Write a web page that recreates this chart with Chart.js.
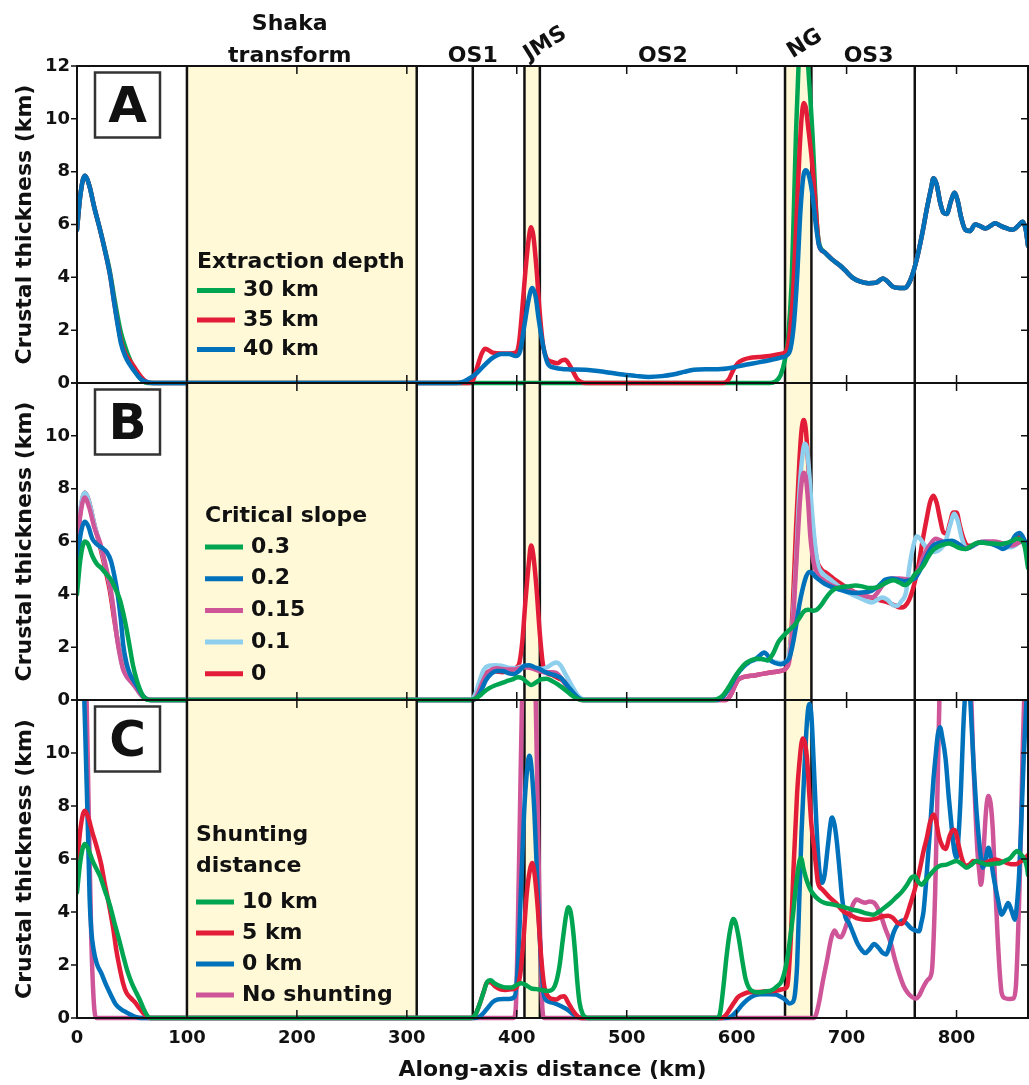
<!DOCTYPE html>
<html>
<head>
<meta charset="utf-8">
<title>Crustal thickness along the ridge axis</title>
<script src="https://cdn.jsdelivr.net/npm/chart.js@4.4.1/dist/chart.umd.min.js"></script>
<style>
  body { margin: 0; background: #fff; }
  #wrap { position: relative; width: 1029px; height: 1085px; }
  #wrap canvas { position: absolute; left: 0; top: 0; }
</style>
</head>
<body>
<div id="wrap">
  <canvas id="panelA" width="1029" height="1085"></canvas>
  <canvas id="panelB" width="1029" height="1085"></canvas>
  <canvas id="panelC" width="1029" height="1085"></canvas>
</div>
<script>
// along-axis distance range (km) and section boundaries
const xMax = 865;
const segmentEdges = [100, 309, 360, 407, 421, 644, 668, 762];
const yellowBands = [[100, 309], [407, 421], [644, 668]];
const segmentLabels = [
  { text: ['Shaka', 'transform'], km: 193.5 },
  { text: ['OS1'], km: 360 },
  { text: ['OS2'], km: 533 },
  { text: ['OS3'], km: 720 }
];
const tiltedLabels = [
  { text: 'JMS', km: 426 },
  { text: 'NG', km: 662 }
];

// A: extraction depth  [km, crustal thickness km]
const depth40 = [[0,5.8],[3,7.1],[7,7.85],[11,7.5],[16,6.6],[21,5.8],[26,4.9],[30,4.1],[34,3.0],[37,2.2],[40,1.5],[44,1.0],[48,0.7],[53,0.4],[58,0.15],[64,0.03],[70,0],[340,0],[349,0.02],[356,0.15],[363,0.35],[370,0.65],[378,0.95],[386,1.1],[393,1.1],[399,1.02],[403,1.2],[407,2.2],[411,3.2],[414,3.6],[417,3.3],[420,2.4],[424,1.4],[428,0.75],[434,0.58],[445,0.52],[462,0.5],[480,0.42],[494,0.33],[508,0.27],[520,0.23],[532,0.26],[542,0.32],[552,0.42],[561,0.5],[575,0.52],[586,0.53],[598,0.6],[608,0.69],[620,0.78],[632,0.88],[640,0.96],[645,1.03],[649,1.3],[652,2.2],[655,4.0],[658,6.5],[661,7.9],[663,8.05],[666,7.8],[669,7.1],[672,6.0],[675,5.2],[680,4.95],[687,4.67],[694,4.45],[699,4.25],[705,4.0],[712,3.85],[720,3.78],[727,3.8],[733,3.96],[737,3.85],[742,3.65],[748,3.6],[753,3.6],[757,3.8],[761,4.25],[765,4.9],[769,5.7],[773,6.6],[777,7.4],[779,7.75],[782,7.5],[785,6.85],[788,6.45],[791,6.4],[795,6.9],[798,7.2],[801,6.9],[804,6.3],[808,5.8],[812,5.75],[817,6.0],[821,5.95],[826,5.85],[831,5.95],[835,6.05],[840,5.95],[846,5.85],[851,5.8],[856,5.95],[860,6.1],[863,5.8],[865,5.2]];
const depth35 = [[0,5.8],[3,7.1],[7,7.85],[11,7.5],[16,6.6],[21,5.8],[26,4.9],[30,4.1],[34,3.0],[37,2.25],[40,1.6],[44,1.1],[48,0.85],[53,0.55],[58,0.25],[63,0.05],[68,0],[355,0],[360,0.1],[364,0.6],[368,1.1],[371,1.3],[374,1.25],[378,1.15],[386,1.12],[393,1.12],[399,1.15],[402,1.5],[405,2.8],[408,4.3],[411,5.5],[413,5.9],[415,5.6],[418,4.3],[421,2.6],[424,1.4],[427,0.95],[432,0.8],[437,0.75],[441,0.85],[444,0.88],[447,0.75],[451,0.45],[455,0.15],[459,0.03],[463,0],[588,0],[593,0.15],[597,0.5],[601,0.75],[606,0.88],[612,0.95],[620,0.98],[630,1.02],[640,1.1],[645,1.2],[648,1.8],[651,3.2],[654,5.8],[657,8.6],[659,10.0],[661,10.6],[663,10.4],[665,9.7],[668,8.6],[671,7.2],[673,6.0],[675,5.2],[680,4.95],[687,4.67],[694,4.45],[699,4.25],[705,4.0],[712,3.85],[720,3.78],[727,3.8],[733,3.96],[737,3.85],[742,3.65],[748,3.6],[753,3.6],[757,3.8],[761,4.25],[765,4.9],[769,5.7],[773,6.6],[777,7.4],[779,7.75],[782,7.5],[785,6.85],[788,6.45],[791,6.4],[795,6.9],[798,7.2],[801,6.9],[804,6.3],[808,5.8],[812,5.75],[817,6.0],[821,5.95],[826,5.85],[831,5.95],[835,6.05],[840,5.95],[846,5.85],[851,5.8],[856,5.95],[860,6.1],[863,5.8],[865,5.2]];
const depth30 = [[0,5.8],[3,7.1],[7,7.85],[11,7.5],[16,6.6],[21,5.8],[26,4.95],[30,4.2],[34,3.2],[37,2.5],[40,1.9],[44,1.35],[48,0.9],[53,0.45],[58,0.15],[62,0.02],[65,0],[630,0],[635,0.05],[640,0.3],[644,0.9],[647,1.8],[650,3.8],[652,6.5],[654,9.5],[656,11.7],[658,13.5],[661,14.5],[663,13.5],[665,12],[667,10.8],[669,9.4],[671,7.6],[673,6.0],[675,5.3],[680,4.95],[687,4.67],[694,4.45],[699,4.25],[705,4.0],[712,3.85],[720,3.78],[727,3.8],[733,3.96],[737,3.85],[742,3.65],[748,3.6],[753,3.6],[757,3.8],[761,4.25],[765,4.9],[769,5.7],[773,6.6],[777,7.4],[779,7.75],[782,7.5],[785,6.85],[788,6.45],[791,6.4],[795,6.9],[798,7.2],[801,6.9],[804,6.3],[808,5.8],[812,5.75],[817,6.0],[821,5.95],[826,5.85],[831,5.95],[835,6.05],[840,5.95],[846,5.85],[851,5.8],[856,5.95],[860,6.1],[863,5.8],[865,5.2]];

// B: critical slope
const slope03 = [[0,4.0],[3,5.3],[7,6.0],[10,5.9],[14,5.45],[18,5.15],[22,5.0],[27,4.75],[31,4.55],[35,4.2],[39,3.8],[42,3.3],[45,2.7],[48,2.0],[51,1.3],[54,0.8],[57,0.42],[60,0.15],[63,0.03],[66,0],[358,0],[362,0.05],[366,0.15],[370,0.3],[375,0.45],[380,0.55],[385,0.62],[390,0.7],[396,0.78],[401,0.86],[405,0.82],[409,0.68],[413,0.57],[417,0.65],[422,0.78],[427,0.8],[432,0.72],[437,0.6],[442,0.45],[447,0.28],[452,0.12],[456,0.03],[460,0],[578,0],[583,0.05],[588,0.2],[593,0.5],[598,0.85],[603,1.15],[608,1.38],[613,1.5],[618,1.56],[623,1.55],[628,1.5],[633,1.75],[638,2.2],[643,2.45],[648,2.65],[653,2.85],[657,3.1],[661,3.35],[665,3.42],[670,3.38],[673,3.42],[677,3.6],[681,3.85],[686,4.1],[690,4.22],[696,4.28],[702,4.3],[708,4.33],[714,4.3],[720,4.24],[726,4.25],[732,4.35],[738,4.48],[743,4.53],[748,4.45],[753,4.35],[758,4.5],[762,4.75],[766,4.9],[770,5.1],[774,5.4],[778,5.65],[783,5.8],[788,5.88],[793,5.92],[798,5.85],[803,5.75],[808,5.72],[813,5.82],[818,5.94],[823,5.96],[828,5.93],[834,5.92],[840,5.9],[846,5.95],[851,6.03],[855,6.1],[859,6.05],[862,5.8],[865,5.0]];
const slope02 = [[0,5.1],[3,6.2],[7,6.75],[10,6.6],[14,6.1],[18,5.9],[23,5.75],[27,5.6],[31,5.25],[34,4.7],[37,4.0],[40,3.0],[42,2.1],[45,1.4],[48,1.0],[52,0.7],[55,0.5],[58,0.28],[61,0.1],[64,0.02],[67,0],[360,0],[364,0.1],[368,0.4],[372,0.75],[377,1.0],[382,1.1],[387,1.1],[392,1.02],[397,0.98],[402,1.1],[407,1.3],[411,1.32],[416,1.24],[421,1.17],[426,1.05],[431,0.98],[436,0.92],[440,0.84],[444,0.65],[448,0.45],[452,0.25],[456,0.08],[460,0],[582,0],[588,0.15],[594,0.5],[600,0.95],[606,1.25],[612,1.45],[617,1.55],[622,1.72],[625,1.8],[628,1.7],[631,1.5],[635,1.4],[640,1.35],[645,1.45],[648,1.6],[651,2.1],[654,2.8],[657,3.6],[660,4.2],[663,4.65],[666,4.85],[669,4.8],[672,4.65],[675,4.55],[680,4.4],[685,4.3],[692,4.2],[700,4.1],[708,4.05],[716,4.08],[723,4.14],[730,4.35],[735,4.55],[741,4.6],[747,4.55],[753,4.5],[758,4.55],[762,4.6],[766,4.85],[770,5.2],[774,5.55],[779,5.85],[784,5.95],[790,6.0],[796,6.03],[802,5.9],[808,5.72],[814,5.82],[820,5.95],[826,5.95],[832,5.9],[838,5.8],[842,5.72],[846,5.8],[850,6.0],[854,6.25],[857,6.32],[860,6.2],[863,5.9],[865,5.5]];
const slope015 = [[0,5.8],[3,7.0],[7,7.67],[11,7.3],[16,6.5],[21,5.95],[26,5.1],[30,4.35],[33,3.5],[36,2.45],[39,1.7],[42,1.15],[45,0.9],[49,0.7],[53,0.5],[57,0.25],[61,0.08],[64,0.02],[67,0],[360,0],[364,0.2],[368,0.6],[372,0.95],[377,1.15],[382,1.2],[387,1.17],[392,1.15],[397,1.15],[402,1.2],[407,1.24],[412,1.22],[417,1.15],[422,1.08],[427,1.05],[432,1.05],[436,1.02],[440,0.85],[444,0.6],[448,0.38],[452,0.18],[456,0.05],[460,0],[590,0],[594,0.15],[598,0.5],[601,0.75],[605,0.85],[610,0.9],[616,0.93],[622,0.98],[628,1.02],[634,1.06],[640,1.1],[645,1.2],[648,1.5],[651,2.8],[654,5.0],[657,7.2],[659,8.2],[661,8.6],[663,8.4],[665,7.5],[667,6.2],[670,5.2],[673,4.8],[677,4.6],[682,4.45],[688,4.3],[695,4.2],[702,4.15],[710,4.05],[718,3.92],[723,3.88],[727,4.0],[732,4.3],[737,4.55],[742,4.6],[748,4.6],[753,4.58],[757,4.55],[761,4.6],[765,4.9],[769,5.35],[773,5.7],[777,5.95],[781,6.1],[785,6.05],[790,5.95],[795,5.97],[800,5.95],[806,5.78],[811,5.75],[816,5.88],[822,5.98],[828,6.0],[834,6.0],[840,5.95],[846,5.85],[851,5.85],[856,5.95],[860,6.0],[863,5.8],[865,5.4]];
const slope01 = [[0,6.0],[3,7.2],[7,7.85],[11,7.5],[16,6.6],[21,5.9],[26,5.05],[30,4.3],[33,3.5],[36,2.5],[39,1.75],[42,1.2],[45,0.92],[49,0.7],[53,0.5],[57,0.25],[61,0.08],[64,0.02],[67,0],[358,0],[362,0.2],[366,0.7],[370,1.15],[375,1.3],[380,1.32],[386,1.3],[392,1.22],[398,1.2],[403,1.25],[408,1.28],[413,1.24],[418,1.18],[423,1.18],[428,1.25],[433,1.38],[436,1.42],[440,1.3],[444,1.0],[448,0.7],[452,0.4],[456,0.15],[460,0.03],[463,0],[582,0],[588,0.15],[594,0.5],[600,0.95],[606,1.25],[612,1.45],[617,1.52],[622,1.55],[628,1.5],[634,1.45],[640,1.4],[645,1.45],[648,1.8],[651,3.0],[654,5.2],[657,7.8],[660,9.3],[662,9.7],[664,9.5],[666,8.6],[668,7.4],[671,6.0],[674,5.1],[678,4.8],[684,4.6],[692,4.33],[700,4.1],[710,3.9],[718,3.75],[723,3.69],[728,3.8],[732,3.88],[737,3.8],[742,3.6],[746,3.57],[750,3.75],[754,4.07],[757,5.0],[760,5.7],[764,6.2],[767,6.1],[771,5.85],[775,5.7],[780,5.6],[785,5.7],[790,6.0],[794,6.6],[798,7.05],[801,6.8],[805,6.1],[809,5.75],[814,5.8],[820,5.95],[826,6.0],[832,5.95],[838,5.9],[844,5.8],[850,5.78],[855,5.9],[860,6.05],[863,5.8],[865,5.4]];
const slope0 = [[0,5.8],[3,7.1],[7,7.85],[11,7.5],[16,6.6],[21,5.8],[26,4.9],[30,4.1],[34,3.0],[37,2.25],[40,1.6],[44,1.1],[48,0.85],[53,0.55],[58,0.25],[63,0.05],[68,0],[360,0],[364,0.2],[368,0.7],[372,1.0],[377,1.1],[382,1.08],[387,1.05],[393,1.1],[398,1.2],[402,1.35],[405,2.2],[408,3.8],[411,5.2],[413,5.85],[415,5.5],[418,4.2],[421,2.5],[424,1.3],[428,1.0],[432,0.95],[436,0.86],[440,0.78],[444,0.68],[448,0.48],[451,0.3],[455,0.1],[459,0],[590,0],[594,0.15],[598,0.5],[601,0.75],[605,0.85],[610,0.9],[616,0.93],[622,0.98],[628,1.02],[634,1.06],[640,1.1],[645,1.2],[648,1.7],[651,3.5],[654,6.5],[657,9.0],[659,10.2],[661,10.6],[663,10.2],[665,9.0],[667,7.6],[670,6.2],[673,5.3],[677,4.95],[682,4.8],[688,4.6],[695,4.4],[702,4.2],[708,4.07],[715,3.95],[723,3.88],[730,3.78],[738,3.69],[744,3.58],[749,3.5],[753,3.55],[757,3.8],[761,4.3],[765,5.0],[769,6.0],[773,6.9],[776,7.5],[779,7.73],[782,7.45],[785,6.85],[788,6.35],[791,6.3],[794,6.7],[797,7.1],[800,7.1],[803,6.6],[806,6.15],[810,5.84],[815,5.85],[821,5.96],[827,5.95],[833,5.98],[839,5.95],[845,5.9],[850,6.0],[855,6.15],[859,6.2],[862,5.9],[865,5.3]];

// C: shunting distance
const shunt10 = [[0,4.74],[3,5.9],[7,6.57],[10,6.4],[14,5.95],[18,5.6],[21,5.35],[25,4.85],[30,4.24],[34,3.6],[38,3.0],[42,2.35],[46,1.75],[50,1.3],[54,0.95],[57,0.7],[60,0.4],[63,0.15],[65,0.03],[67,0],[358,0],[362,0.1],[366,0.5],[370,1.0],[373,1.35],[376,1.42],[380,1.3],[385,1.2],[390,1.15],[395,1.15],[400,1.25],[404,1.31],[408,1.25],[413,1.12],[418,1.09],[423,1.05],[428,1.02],[433,1.1],[436,1.38],[439,2.0],[442,3.0],[445,3.9],[447,4.18],[449,4.0],[451,3.4],[453,2.5],[455,1.4],[457,0.6],[460,0.15],[463,0.02],[465,0],[582,0],[585,0.2],[588,1.2],[591,2.4],[594,3.3],[597,3.74],[599,3.6],[602,3.0],[605,2.2],[608,1.5],[611,1.15],[615,1.0],[620,0.97],[626,1.0],[632,1.05],[637,1.2],[641,1.4],[645,2.0],[648,2.8],[651,3.8],[654,5.0],[657,5.9],[658.5,6.04],[661,5.6],[664,5.16],[667,4.85],[670,4.66],[675,4.45],[680,4.34],[688,4.28],[696,4.2],[704,4.1],[712,4.03],[718,3.95],[724,3.9],[729,4.0],[734,4.15],[740,4.35],[745,4.55],[750,4.75],[755,5.03],[759,5.3],[762,5.35],[765,5.15],[768,5.03],[772,5.2],[776,5.41],[780,5.6],[784,5.73],[791,5.79],[800,5.92],[805,5.8],[809,5.67],[814,5.8],[818,5.92],[823,5.85],[828,5.79],[834,5.82],[840,5.85],[845,5.95],[849,6.04],[852,6.2],[855,6.3],[858,6.2],[861,6.04],[864,5.7],[865,5.4]];
const shunt5 = [[0,5.75],[3,7.1],[7,7.82],[10,7.6],[14,7.0],[18,6.45],[22,5.8],[25,5.12],[29,4.3],[33,3.36],[36,2.5],[39,1.85],[42,1.3],[45,0.95],[49,0.75],[53,0.58],[57,0.35],[60,0.2],[63,0.07],[66,0],[358,0],[362,0.1],[366,0.5],[370,1.0],[373,1.35],[376,1.35],[380,1.2],[385,1.08],[390,1.06],[395,1.08],[399,1.12],[403,1.6],[406,2.9],[409,4.66],[412,5.6],[414,5.85],[416,5.5],[419,4.2],[422,2.4],[425,1.2],[428,0.85],[432,0.72],[436,0.7],[440,0.8],[443,0.82],[447,0.56],[451,0.28],[455,0.08],[458,0],[586,0],[590,0.1],[594,0.35],[598,0.6],[601,0.78],[606,0.9],[611,0.97],[618,0.98],[625,1.0],[632,1.02],[638,1.05],[643,1.1],[646,1.2],[649,2.8],[652,5.9],[655,8.5],[657,9.6],[660,10.55],[662,10.4],[664,9.8],[666,8.5],[668,7.3],[670,6.55],[672,5.8],[674,5.1],[678,4.85],[685,4.53],[690,4.35],[697,4.03],[703,3.9],[709,3.77],[715,3.72],[721,3.71],[727,3.75],[733,3.84],[738,3.86],[742,3.78],[746,3.6],[750,3.55],[754,3.8],[758,4.3],[762,4.85],[766,5.5],[770,6.3],[773,6.8],[776,7.4],[779,7.68],[781,7.5],[784,6.85],[787,6.5],[790,6.38],[794,6.9],[797,7.1],[799,7.05],[802,6.5],[805,6.0],[808,5.75],[812,5.8],[815,5.92],[820,5.88],[825,5.85],[830,5.92],[835,5.98],[840,5.92],[846,5.85],[850,5.8],[854,5.8],[858,5.9],[861,5.98],[865,6.15]];
const shunt0 = [[0,16],[4,14],[6.5,12.2],[8,10],[10,7],[11.5,4.5],[13,3.3],[15,2.6],[18,2.05],[22,1.7],[27,1.2],[31,0.85],[35,0.53],[40,0.33],[45,0.21],[50,0.1],[54,0.03],[58,0],[362,0],[366,0.05],[370,0.2],[374,0.4],[378,0.6],[383,0.7],[388,0.72],[393,0.72],[398,0.8],[401,2.0],[404,5.0],[407,8.0],[410,9.6],[411.5,9.9],[413,9.6],[416,7.8],[419,4.8],[422,2.2],[425,0.8],[429,0.62],[434,0.56],[440,0.45],[446,0.32],[451,0.15],[455,0.05],[459,0],[590,0],[595,0.05],[600,0.25],[605,0.5],[610,0.7],[616,0.85],[622,0.9],[630,0.9],[636,0.88],[640,0.8],[644,0.7],[648,0.55],[651,0.6],[653,0.9],[655,2.0],[657,4.5],[659,7.0],[662,9.7],[664,11.2],[666,11.85],[668,11.4],[670,9.7],[672,7.8],[674,6.2],[676,5.3],[678,5.1],[680,5.4],[683,6.5],[686,7.5],[687,7.57],[689,7.3],[691,6.7],[694,5.4],[696,4.5],[699,3.8],[702,3.6],[706,3.2],[710,2.8],[714,2.55],[717,2.45],[721,2.6],[725,2.79],[729,2.65],[733,2.45],[736,2.4],[739,2.7],[743,3.25],[747,3.55],[751,3.68],[755,3.55],[759,3.38],[763,3.3],[766,3.27],[768,3.6],[770,4.03],[773,5.5],[776,7.18],[779,9.0],[781,9.9],[783,10.7],[785,10.97],[787,10.6],[790,9.8],[793,8.3],[796,7.0],[798,6.3],[800,6.04],[802,7.0],[804,8.6],[806,10.8],[808,12.3],[810,12.8],[812,12.3],[814,10.8],[816,9.2],[818,7.9],[820,6.9],[822,6.1],[824,5.67],[826,5.9],[829,6.42],[831,6.1],[833,5.5],[835,5.03],[838,4.4],[841,3.9],[844,4.1],[847,4.34],[850,4.05],[853,3.71],[855,4.3],[857,5.5],[859,7.5],[861,9.7],[863,11.5],[865,13]];
const noShunt = [[0,20],[5,17],[8.5,12.5],[11,7],[13,3],[15,0.8],[16.5,0.1],[18,0],[397,0],[399,0.3],[401,3.5],[403,8],[405,12.5],[408,16],[413,16],[417,12.5],[419,8],[421,3.5],[423,0.6],[425,0],[670,0],[672,0.1],[675,0.6],[678,1.3],[682,2.13],[686,3.0],[689,3.3],[692,3.1],[695,3.05],[698,3.3],[702,3.8],[706,4.3],[709,4.47],[713,4.4],[717,4.35],[721,4.4],[725,4.35],[730,4.0],[735,3.4],[740,2.85],[744,2.2],[748,1.65],[752,1.2],[756,0.93],[760,0.78],[763,0.74],[766,0.85],[770,1.19],[774,1.45],[777.5,1.75],[780.5,4.66],[782.6,8.44],[784.4,12],[786,15],[791,17],[798,17],[806,16],[811,14],[813.5,12],[815,10],[817,8.0],[819,6.3],[821,5.4],[822,5.03],[823.5,5.4],[825,6.6],[827,7.9],[829,8.38],[831,8.1],[833,7.1],[835,5.2],[837,3.4],[839,1.9],[841,0.95],[844,0.75],[848,0.72],[852,0.74],[854,1.2],[855.5,2.6],[857,4.5],[858.5,6.9],[860,9.8],[861.5,12],[865,17]];

const GREEN = '#00a552', RED = '#e31d37', BLUE = '#0071bb', PINK = '#cf5599', SKY = '#8fcfee';
const INK = '#111';
const FONT = '"DejaVu Sans", sans-serif';

Chart.defaults.font.family = FONT;
Chart.defaults.font.weight = 'bold';
Chart.defaults.color = INK;

function series(label, color, pts) {
  return {
    label,
    data: pts.map(([x, y]) => ({ x, y })),
    borderColor: color,
    borderWidth: 4.5,
    pointRadius: 0,
    fill: false,
    cubicInterpolationMode: 'monotone',
    borderJoinStyle: 'round',
    borderCapStyle: 'round',
    clip: { left: 0, top: 0, right: 0, bottom: 3 }
  };
}

// bands, boundaries, frame, ticks, panel letter and the in-plot legend
const panelDecor = {
  id: 'panelDecor',
  beforeDatasetsDraw(chart) {
    const { ctx, chartArea: a, scales: { x } } = chart;
    ctx.save();
    ctx.fillStyle = '#fff9d7';
    yellowBands.forEach(([s, e]) => {
      const x0 = x.getPixelForValue(s), x1 = x.getPixelForValue(e);
      ctx.fillRect(x0, a.top, x1 - x0, a.bottom - a.top);
    });
    ctx.strokeStyle = INK;
    ctx.lineWidth = 2.5;
    segmentEdges.forEach(km => {
      const px = x.getPixelForValue(km);
      ctx.beginPath();
      ctx.moveTo(px, a.top);
      ctx.lineTo(px, a.bottom);
      ctx.stroke();
    });
    ctx.restore();
  },
  afterDatasetsDraw(chart, args, opts) {
    const { ctx, chartArea: a, scales: { x, y } } = chart;
    ctx.save();
    ctx.strokeStyle = INK;
    ctx.lineWidth = 2;
    ctx.strokeRect(a.left, a.top, a.right - a.left, a.bottom - a.top);

    ctx.lineWidth = 1.5;
    ctx.beginPath();
    for (let km = 0; km <= xMax; km += 100) {
      const px = x.getPixelForValue(km);
      ctx.moveTo(px, a.top); ctx.lineTo(px, a.top + 8);
      ctx.moveTo(px, a.bottom); ctx.lineTo(px, a.bottom - 8);
    }
    for (let v = 0; v <= 12; v += 2) {
      const py = y.getPixelForValue(v);
      ctx.moveTo(a.left - 6, py); ctx.lineTo(a.left, py);
      ctx.moveTo(a.right, py); ctx.lineTo(a.right - 7, py);
    }
    ctx.stroke();

    // panel letter in its box
    ctx.strokeStyle = '#333';
    ctx.lineWidth = 2.5;
    ctx.strokeRect(95, a.top + 6.5, 65, 65);
    ctx.fillStyle = INK;
    ctx.font = 'bold 50px ' + FONT;
    ctx.textAlign = 'center';
    ctx.textBaseline = 'alphabetic';
    ctx.fillText(opts.letter, 127.5, a.top + 56);

    // legend
    const L = opts.legend;
    ctx.font = 'bold 22px ' + FONT;
    ctx.textAlign = 'left';
    ctx.textBaseline = 'middle';
    L.title.forEach((t, i) => ctx.fillText(t, L.x, L.titleY + i * L.step));
    L.items.forEach((label, i) => {
      const ds = chart.data.datasets.find(d => d.label === label);
      const yy = L.itemY + i * L.step;
      ctx.strokeStyle = ds.borderColor;
      ctx.lineWidth = 5;
      ctx.beginPath();
      ctx.moveTo(L.x, yy);
      ctx.lineTo(L.x + 38, yy);
      ctx.stroke();
      ctx.fillText(label, L.x + 46, yy);
    });

    // section names above the top panel
    if (opts.sections) {
      ctx.textAlign = 'center';
      ctx.textBaseline = 'alphabetic';
      segmentLabels.forEach(s => {
        const px = x.getPixelForValue(s.km);
        s.text.forEach((t, i) => ctx.fillText(t, px, a.top - 4 - (s.text.length - 1 - i) * 32));
      });
      tiltedLabels.forEach(s => {
        ctx.save();
        ctx.translate(x.getPixelForValue(s.km), a.top - 22);
        ctx.rotate(-32 * Math.PI / 180);
        ctx.textBaseline = 'middle';
        ctx.fillText(s.text, 0, 0);
        ctx.restore();
      });
    }
    ctx.restore();
  }
};

function makePanel(id, datasets, pad, letter, legend, opts) {
  const showX = opts.showX;
  return new Chart(document.getElementById(id), {
    type: 'line',
    data: { datasets },
    plugins: [panelDecor],
    options: {
      responsive: false,
      animation: false,
      devicePixelRatio: 1,
      layout: { padding: { top: pad.top, bottom: pad.bottom, left: 0, right: 1 } },
      plugins: {
        legend: { display: false },
        tooltip: { enabled: false },
        panelDecor: { letter, legend, sections: opts.sections }
      },
      scales: {
        x: {
          type: 'linear',
          min: 0,
          max: xMax,
          display: showX,
          grid: { display: false, drawTicks: false },
          border: { display: false },
          ticks: { stepSize: 100, includeBounds: false, padding: 10, maxRotation: 0, font: { size: 18, weight: 'bold' } },
          title: {
            display: showX,
            text: 'Along-axis distance (km)',
            font: { size: 22, weight: 'bold' },
            padding: { top: 0, bottom: 2 }
          },
          afterFit: s => { if (showX) s.height = 67; }
        },
        y: {
          min: 0,
          max: 12,
          grid: { display: false, drawTicks: false },
          border: { display: false },
          ticks: {
            stepSize: 2,
            padding: 7,
            font: { size: 18, weight: 'bold' },
            callback: v => (v === 12 && !opts.showTop ? '' : v)
          },
          title: {
            display: true,
            text: 'Crustal thickness (km)',
            font: { size: 22, weight: 'bold' },
            padding: { top: 12, bottom: 0 }
          },
          afterFit: s => { s.width = 77; }
        }
      }
    }
  });
}

makePanel('panelA',
  [series('40 km', BLUE, depth40), series('35 km', RED, depth35), series('30 km', GREEN, depth30)],
  { top: 66, bottom: 1085 - 383 }, 'A',
  { x: 197, title: ['Extraction depth'], titleY: 262, itemY: 290.5, step: 29.5, items: ['30 km', '35 km', '40 km'] },
  { showX: false, showTop: true, sections: true });

makePanel('panelB',
  [series('0.3', GREEN, slope03), series('0.2', BLUE, slope02), series('0.15', PINK, slope015),
   series('0.1', SKY, slope01), series('0', RED, slope0)],
  { top: 383, bottom: 1085 - 700 }, 'B',
  { x: 205, title: ['Critical slope'], titleY: 516, itemY: 547, step: 31.7, items: ['0.3', '0.2', '0.15', '0.1', '0'] },
  { showX: false, showTop: false, sections: false });

makePanel('panelC',
  [series('10 km', GREEN, shunt10), series('5 km', RED, shunt5), series('0 km', BLUE, shunt0),
   series('No shunting', PINK, noShunt)],
  { top: 700, bottom: 0 }, 'C',
  { x: 196, title: ['Shunting', 'distance'], titleY: 835, itemY: 902, step: 31, items: ['10 km', '5 km', '0 km', 'No shunting'] },
  { showX: true, showTop: false, sections: false });
</script>
</body>
</html>
